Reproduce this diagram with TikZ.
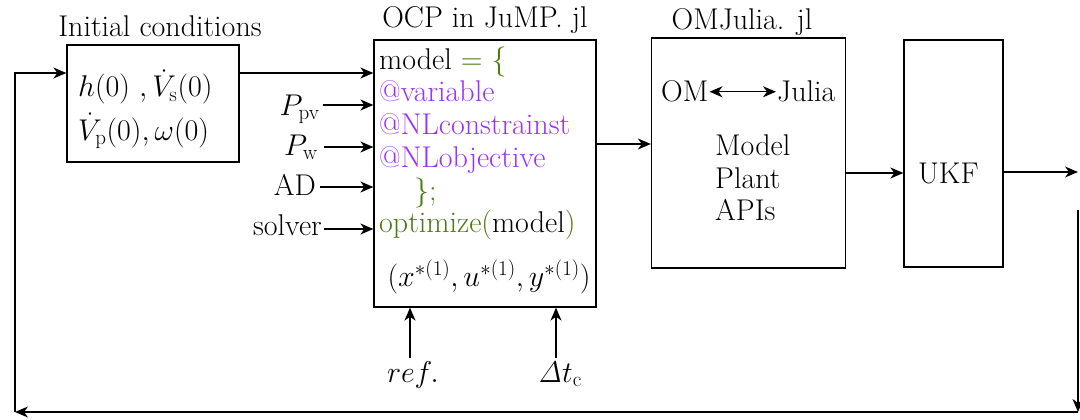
\RequirePackage{fix-cm}
\documentclass[tikz,border=0pt]{standalone}
\usetikzlibrary{arrows.meta}
\definecolor{jpurple}{HTML}{9B30FF}
\definecolor{jgreen}{HTML}{4A7A10}
\begin{document}
\begin{tikzpicture}[x=1pt,y=-1pt,
  every node/.style={font=\fontsize{30}{36}\selectfont, inner sep=1pt},
  blk/.style={draw, line width=1.3pt, inner sep=0pt},
  tip/.style={Stealth[length=13pt,width=11pt,inset=4pt]},
  arr/.style={line width=1.3pt, -{Stealth[length=13pt,width=11pt,inset=4pt]}},
  darr/.style={line width=1.3pt, {Stealth[length=13pt,width=11pt,inset=4pt]}-{Stealth[length=13pt,width=11pt,inset=4pt]}}]
\useasboundingbox (0,0) rectangle (1080,420);

% Initial conditions
\node[blk, minimum width=172pt, minimum height=117pt] (init) at (153,103.5) {};
\node[anchor=base] (initT) at (160,37) {Initial conditions};
\node[anchor=base west, inner sep=0pt] (ic1) at (78,97) {$h(0)\ ,\dot{V}_{\mathrm{s}}(0)$};
\node[anchor=base west, inner sep=0pt] (ic2) at (78,140) {$\dot{V}_{\mathrm{p}}(0), \omega(0)$};

% OCP
\node[blk, minimum width=222pt, minimum height=267pt] (ocp) at (485,173.5) {};
\node[anchor=base] (ocpT) at (485,28) {OCP in JuMP. jl};
\node[anchor=base west] (c1) at (378,70) {model {\color{jgreen}= \{}};
\node[anchor=base west, text=jpurple] (c2) at (378,102) {@variable};
\node[anchor=base west, text=jpurple] (c3) at (378,135) {@NLconstrainst};
\node[anchor=base west, text=jpurple] (c4) at (378,167) {@NLobjective};
\node[anchor=base west, text=jgreen] (c5) at (413,200) {\};};
\node[anchor=base west] (c6) at (378,232) {{\color{jgreen}optimize(}model{\color{jgreen})}};
\node (c7) at (489,277) {$\Bigl(x^{*(1)}, u^{*(1)}, y^{*(1)}\Bigr)$};

% inputs
\node[anchor=base east] (ppv) at (321,115) {$P_{\mathrm{pv}}$};
\node[anchor=base east] (pw) at (319,155) {$P_{\mathrm{w}}$};
\node[anchor=base east] (ad) at (317,195) {AD};
\node[anchor=base east] (sol) at (323,235) {solver};
\coordinate (ppvA) at (323,105);
\coordinate (pwA) at (324,147);
\coordinate (adA) at (320,187);
\coordinate (solA) at (324,229);
\draw[arr] (ppvA) -- (ppvA -| ocp.west);
\draw[arr] (pwA) -- (pwA -| ocp.west);
\draw[arr] (adA) -- (adA -| ocp.west);
\draw[arr] (solA) -- (solA -| ocp.west);

% bottom inputs
\node[anchor=base] (ref) at (413,382) {$ref.$};
\node[anchor=base] (dt) at (560,382) {$\mathit{\Delta} t_{\mathrm{c}}$};
\draw[arr] ([xshift=-3pt,yshift=2pt]ref.north) -- ([xshift=-3pt]ref.north |- ocp.south);
\draw[arr] ([xshift=-4pt,yshift=2pt]dt.north) -- ([xshift=-4pt]dt.north |- ocp.south);

% OMJulia
\node[blk, minimum width=194pt, minimum height=230pt] (omj) at (748.5,153) {};
\node[anchor=base] (omjT) at (742,30) {OMJulia. jl};
\node[anchor=base west] (om) at (660,102) {OM};
\node[anchor=base west] (jul) at (776,102) {Julia};
\draw[darr] (om.east) -- (om.east -| jul.west);
\node[anchor=base west] (m1) at (714,155) {Model};
\node[anchor=base west] (m2) at (714,188) {Plant};
\node[anchor=base west] (m3) at (714,220) {APIs};

% UKF
\node[blk, minimum width=99pt, minimum height=227pt] (ukf) at (953.5,153.5) {};
\node[anchor=base west] (ukfT) at (917,183) {UKF};

% connectors
\draw[arr] ([yshift=30.5pt]init.east) -- ([yshift=30.5pt]init.east -| ocp.west);
\draw[arr] ([yshift=29.5pt]ocp.east) -- ([yshift=29.5pt]ocp.east -| omj.west);
\draw[arr] ([yshift=-20pt]omj.east) -- ([yshift=-20pt]omj.east -| ukf.west);
\coordinate (out) at (1078,172);
\draw[arr] ([yshift=-18.5pt]ukf.east) -- ([yshift=-18.5pt]ukf.east -| out);

% feedback loop
\coordinate (rv) at (1078,210);
\coordinate (br) at (1078,412);
\coordinate (bl) at (15,412);
\coordinate (tl) at (15,73);
\draw[arr] (rv) -- (br);
\draw[arr] (br) -- (bl);
\draw[arr] (bl) -- (tl) -- (tl -| init.west);
\end{tikzpicture}
\end{document}
